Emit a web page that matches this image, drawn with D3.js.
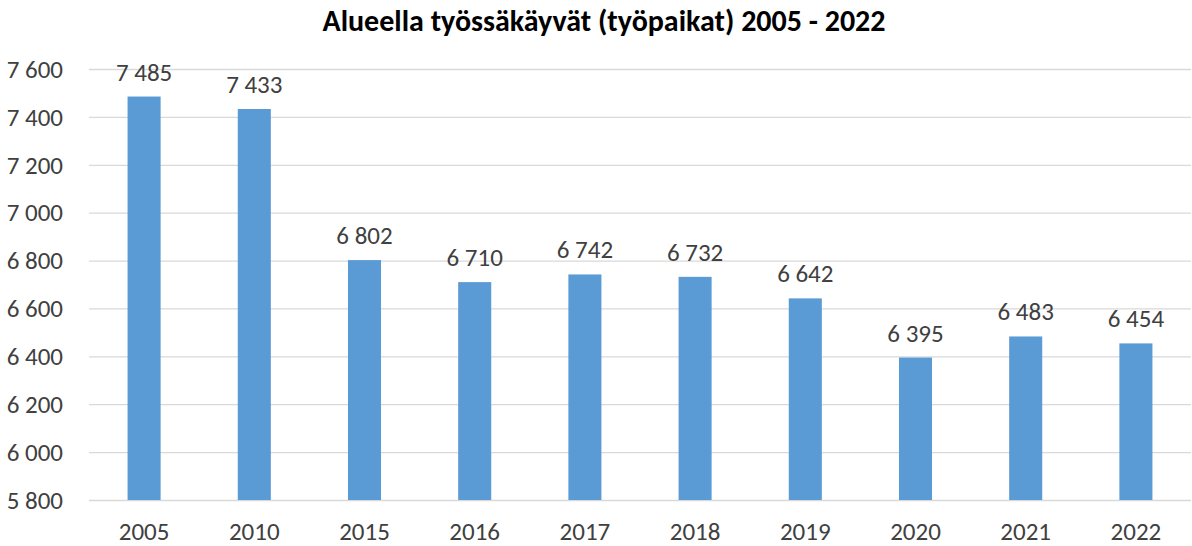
<!DOCTYPE html>
<html>
<head>
<meta charset="utf-8">
<title>Alueella työssäkäyvät</title>
<script src="https://cdn.jsdelivr.net/npm/d3@7"></script>
<style>
    body { margin: 0; background: white; }
    svg { font-family: Carlito, Calibri, Lato, sans-serif; }
    .grid line { stroke: #d9d9d9; stroke-width: 1.3; }
    .ytick, .xtick, .vlabel { fill: #404040; font-size: 25px; }
    .title { fill: #000; font-size: 30px; font-weight: bold; }
</style>
</head>
<body>
<svg id="main" width="1192" height="546"></svg>
<script>
const years = ['2005', '2010', '2015', '2016', '2017', '2018', '2019', '2020', '2021', '2022'];
const workplaces = [7485, 7433, 6802, 6710, 6742, 6732, 6642, 6395, 6483, 6454];
const yTicks = [5800, 6000, 6200, 6400, 6600, 6800, 7000, 7200, 7400, 7600];

const svg = d3.select('svg#main');
const plotLeft = 89, plotRight = 1191, plotTop = 69, plotBottom = 500;

const fi = d3.formatLocale({ decimal: ',', thousands: '\u00a0', grouping: [3], currency: ['', ' €'] });
const fmt = fi.format(',d');

const x = d3.scaleBand().domain(years).range([plotLeft, plotRight]).paddingInner(0.7).paddingOuter(0.35);
const y = d3.scaleLinear().domain([5800, 7600]).range([plotBottom, plotTop]);

// title
svg.append('text')
    .attr('class', 'title')
    .attr('x', 604).attr('y', 31)
    .attr('text-anchor', 'middle')
    .text('Alueella työssäkäyvät (työpaikat) 2005 - 2022');

// gridlines
svg.append('g').attr('class', 'grid')
    .selectAll('line')
    .data(yTicks)
    .join('line')
        .attr('x1', plotLeft).attr('x2', plotRight)
        .attr('y1', d => y(d) + 0.5).attr('y2', d => y(d) + 0.5);

// y labels
svg.append('g')
    .selectAll('text')
    .data(yTicks)
    .join('text')
        .attr('class', 'ytick')
        .attr('x', 63)
        .attr('y', d => y(d))
        .attr('dy', '0.35em')
        .attr('text-anchor', 'end')
        .text(d => fmt(d));

// bars
svg.append('g')
    .selectAll('rect')
    .data(workplaces)
    .join('rect')
        .attr('x', (d, i) => x(years[i]))
        .attr('width', x.bandwidth())
        .attr('y', d => y(d))
        .attr('height', d => y(5800) - y(d))
        .attr('fill', '#5b9bd5');

// value labels
svg.append('g')
    .selectAll('text')
    .data(workplaces)
    .join('text')
        .attr('class', 'vlabel')
        .attr('x', (d, i) => x(years[i]) + x.bandwidth() / 2)
        .attr('y', d => y(d) - 16)
        .attr('text-anchor', 'middle')
        .text(d => fmt(d));

// x labels
svg.append('g')
    .selectAll('text')
    .data(years)
    .join('text')
        .attr('class', 'xtick')
        .attr('x', d => x(d) + x.bandwidth() / 2)
        .attr('y', 540)
        .attr('text-anchor', 'middle')
        .text(d => d);
</script>
</body>
</html>
